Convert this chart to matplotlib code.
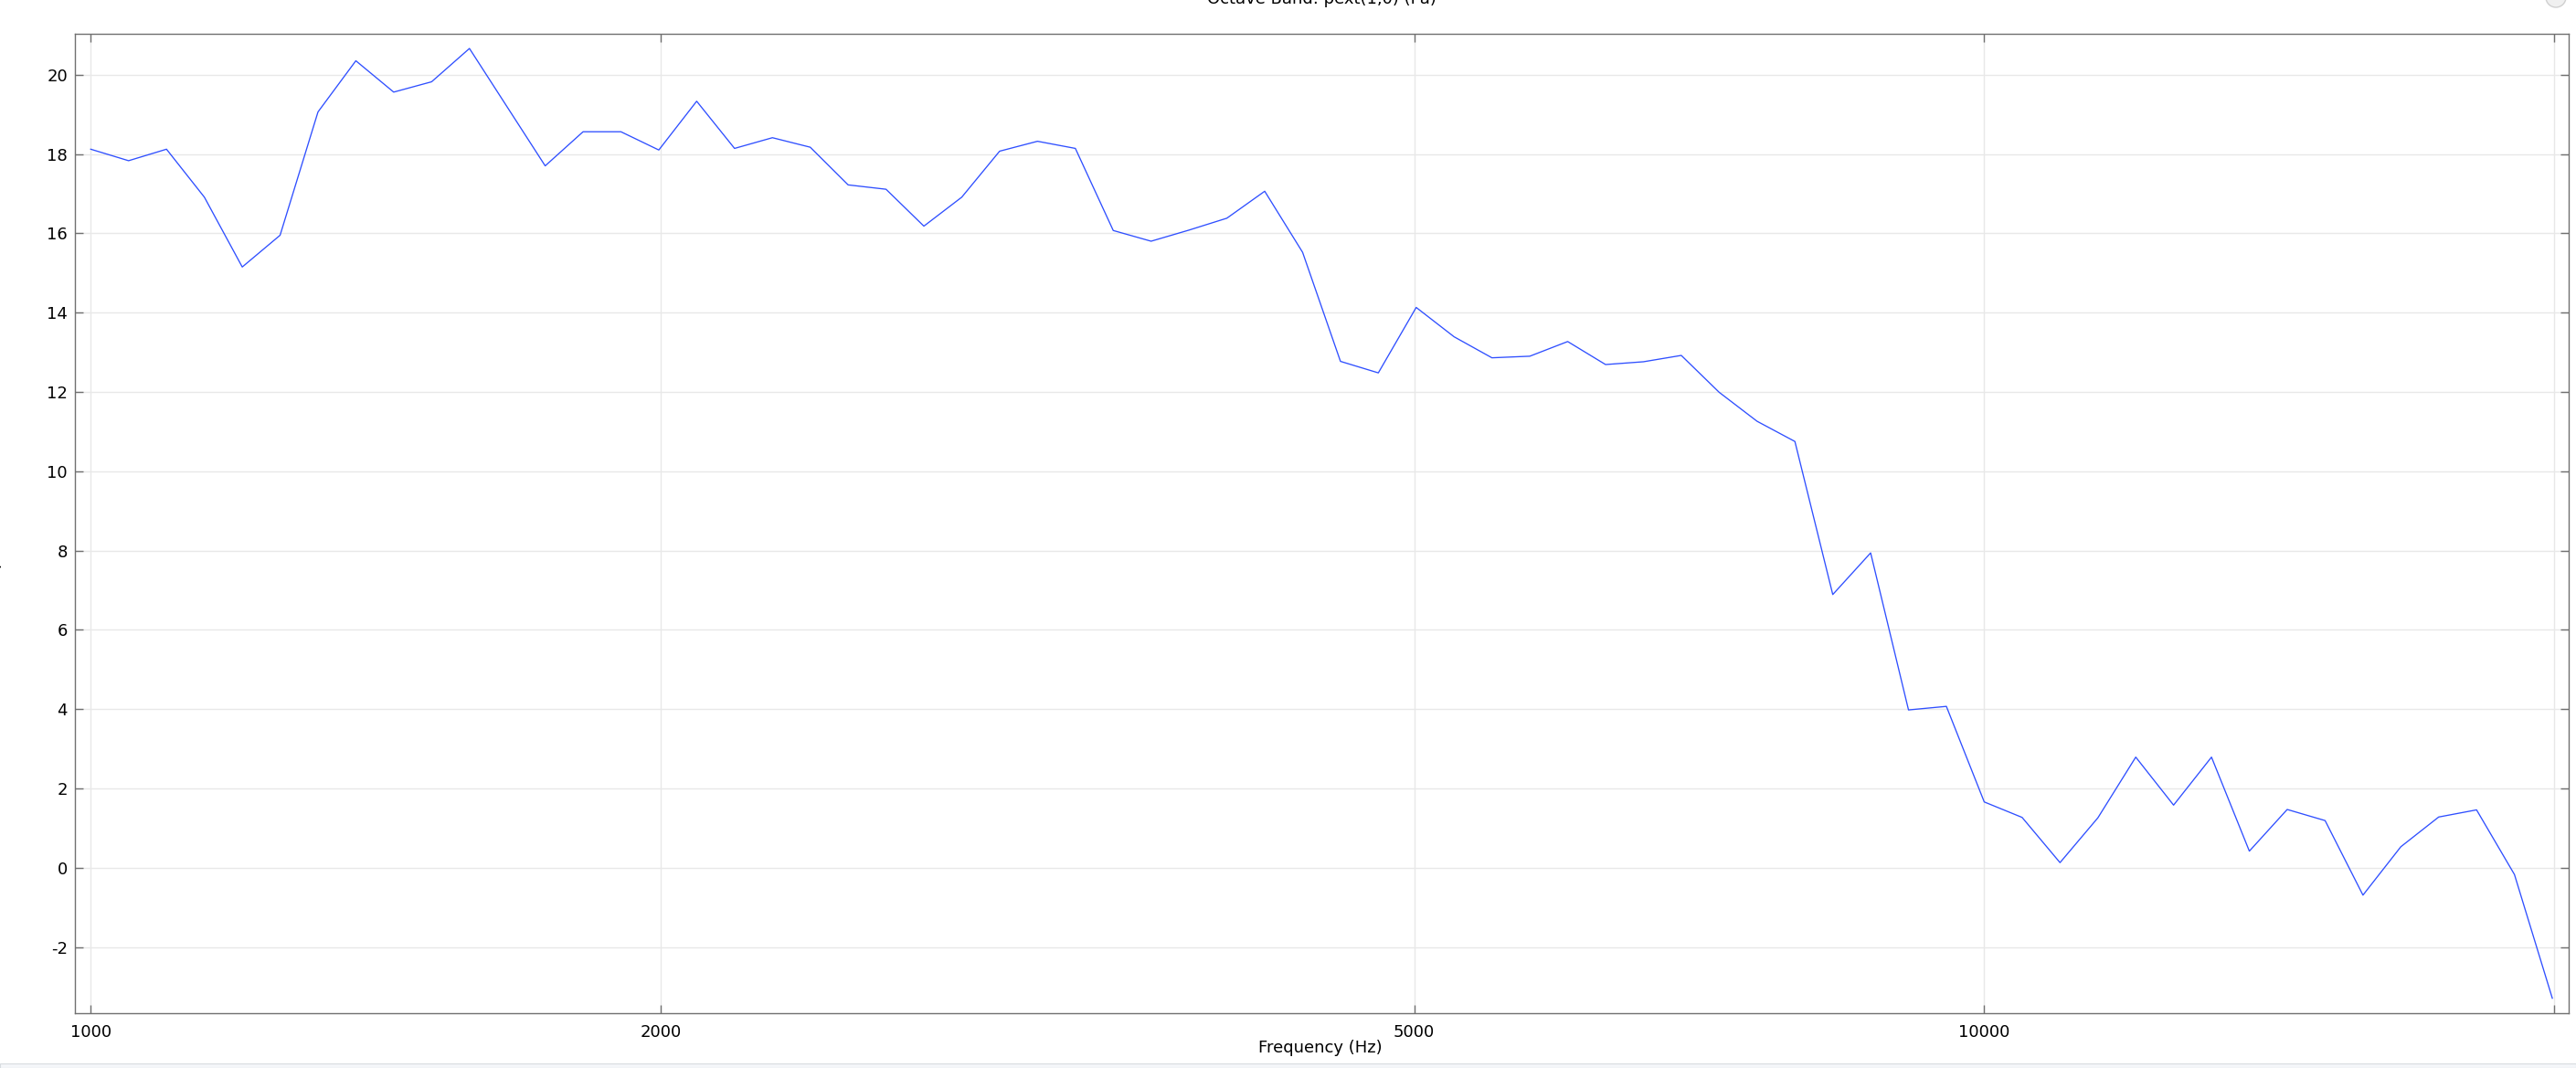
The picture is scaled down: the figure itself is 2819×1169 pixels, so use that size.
import matplotlib.pyplot as plt
from matplotlib.patches import Ellipse, Rectangle
from matplotlib.transforms import IdentityTransform

plt.rcParams['axes.unicode_minus'] = False
plt.rcParams['font.family'] = ['DejaVu Sans']

# band centre frequencies (Hz), 50 per decade
freq_hz = [1000, 1047.1, 1096.5, 1148.2, 1202.3, 1258.9, 1318.3, 1380.4, 1445.4, 1513.6,
           1584.9, 1659.6, 1737.8, 1819.7, 1905.5, 1995.3, 2089.3, 2187.8, 2290.9, 2398.8,
           2511.9, 2630.3, 2754.2, 2884.0, 3019.9, 3162.3, 3311.3, 3467.4, 3630.8, 3801.9,
           3981.1, 4168.7, 4365.2, 4570.9, 4786.3, 5011.9, 5248.1, 5495.4, 5754.4, 6025.6,
           6309.6, 6606.9, 6918.3, 7244.4, 7585.8, 7943.3, 8317.6, 8709.6, 9120.1, 9549.9,
           10000, 10471, 10965, 11482, 12023, 12589, 13183, 13804, 14454, 15136,
           15849, 16596, 17378, 18197, 19055, 19953]

# octave band level of pext(1,0)
pext_pa = [18.12, 17.83, 18.12, 16.91, 15.15, 15.95, 19.06, 20.35, 19.56, 19.82,
           20.66, 19.18, 17.70, 18.56, 18.56, 18.10, 19.33, 18.14, 18.41, 18.17,
           17.22, 17.11, 16.18, 16.91, 18.07, 18.32, 18.14, 16.07, 15.80, 16.08,
           16.38, 17.06, 15.52, 12.77, 12.48, 14.13, 13.39, 12.86, 12.90, 13.27,
           12.69, 12.76, 12.92, 11.99, 11.26, 10.75, 6.89, 7.94, 3.98, 4.07,
           1.66, 1.27, 0.13, 1.26, 2.79, 1.58, 2.79, 0.42, 1.47, 1.19,
           -0.69, 0.53, 1.28, 1.46, -0.17, -3.29]

x_ticks = [1000, 2000, 5000, 10000, 20000]
x_tick_labels = ['1000', '2000', '5000', '10000', '']
y_ticks = [-2, 0, 2, 4, 6, 8, 10, 12, 14, 16, 18, 20]

W, H = 2819, 1169
fig = plt.figure(figsize=(W / 100, H / 100), dpi=100)
fig.patch.set_facecolor('white')

# axes box in pixels
left, right, top, bottom = 82, 2810.7, 37, 1108.7
ax = fig.add_axes([left / W, 1 - bottom / H, (right - left) / W, (bottom - top) / H])

ax.plot(freq_hz, pext_pa, color='#2f4fff', linewidth=0.95, zorder=3)

ax.set_xscale('log')
ax.set_xlim(10 ** 2.99165, 10 ** 4.30851)
ax.set_ylim(-3.66, 21.03)
ax.set_xticks(x_ticks)
ax.set_xticklabels(x_tick_labels)
ax.xaxis.set_minor_locator(plt.NullLocator())
ax.set_yticks(y_ticks)
ax.set_yticklabels([str(v) for v in y_ticks])

ax.grid(True, color='#e8e8e8', linewidth=1.0, zorder=0)
ax.set_axisbelow(True)

spine_col = '#707070'
for sp in ax.spines.values():
    sp.set_color(spine_col)
    sp.set_linewidth(1.0)

ax.tick_params(axis='both', which='major', direction='in', length=6.3, width=1.0,
               color=spine_col, top=True, right=True, labelsize=13, labelcolor='black')
ax.tick_params(axis='y', pad=5.8)
ax.tick_params(axis='x', pad=8.5)

# title, partly clipped at the top like the original
fig.text(1446 / W, 1 - 4 / H, 'Octave Band: pext(1,0) (Pa)', ha='center', va='baseline',
         fontsize=13, color='black')
# x label
fig.text(1445 / W, 1 - 1152 / H, 'Frequency (Hz)', ha='center', va='baseline',
         fontsize=13, color='black')
# y label, almost entirely off the left edge
fig.text(2 / W, 1 - 560 / H, 'pext(1,0) (Pa)', rotation=90, ha='right', va='center',
         fontsize=13, color='black')

# small grey icon at top right and the light strip at the bottom
fig.patches.append(Ellipse((2797, H + 3), 22, 22, transform=IdentityTransform(),
                           facecolor='#f0f0f0', edgecolor='#d0d0d0', linewidth=1.0))
fig.patches.append(Rectangle((0, 0), W, 5, transform=IdentityTransform(),
                             facecolor='#f4f6f9', edgecolor='#d8dce0', linewidth=0.8))

fig.savefig('out.png', dpi=100)
